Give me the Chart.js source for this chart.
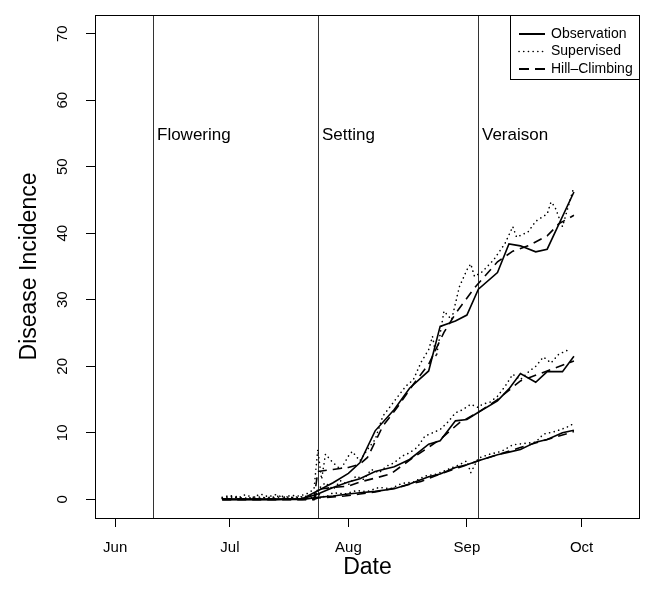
<!DOCTYPE html>
<html>
<head>
<meta charset="utf-8">
<script src="https://cdn.jsdelivr.net/npm/chart.js@4/dist/chart.umd.min.js"></script>
<style>
html,body{margin:0;padding:0;background:#fff;}
#wrap{width:652px;height:595px;}
</style>
</head>
<body>
<div id="wrap"><canvas id="c" width="652" height="595"></canvas></div>
<script>
// ---- data (x = days since 1 June) ----
const xTickDays = [0, 30, 61, 92, 122];
const xTickLabels = ["Jun", "Jul", "Aug", "Sep", "Oct"];
const yTicks = [0, 10, 20, 30, 40, 50, 60, 70];

const phaseDays = [10, 53, 95];
const phaseLabels = ["Flowering", "Setting", "Veraison"];

const obsDays = [28, 35, 42, 49, 53, 57, 61, 64, 68, 73, 77, 82, 85, 89, 92, 95, 100, 103, 106, 110, 113, 117, 120];
const obsHigh = [0, 0, 0, 0.1, 1.3, 2.5, 3.9, 5.5, 10.3, 13.5, 16.7, 19.3, 26.0, 26.8, 27.7, 31.6, 34.1, 38.4, 38.1, 37.2, 37.6, null, 46.2];
const obsMid  = [0, 0, 0, 0.1, 0.8, 1.8, 2.6, 3.1, 4.2, 4.9, 6.0, 8.3, 8.8, 11.8, 12.0, 13.1, 14.8, 16.6, 18.9, 17.6, 19.2, 19.2, 21.5];
const obsLow  = [0, 0, 0, 0, 0.3, 0.5, 0.8, 1.0, 1.2, 1.6, 2.3, 3.4, 3.8, 4.8, 5.2, 5.8, 6.7, 7.1, 7.5, 8.6, 9.0, 10.0, 10.4];

const hcHighDays = [28, 52, 53, 57, 61, 64, 66, 70, 74, 78, 82, 86, 89, 94, 100, 104, 108, 113, 116, 120];
const hcHigh     = [0, 0, 4.2, 4.5, 4.8, 5.3, 6.3, 11, 14, 17.3, 20.3, 25.1, 27.9, 31.8, 35.7, 37.3, 38.1, 39.6, 41.4, 42.7];
const hcMidDays  = [28, 52, 53, 57, 61, 64, 68, 72, 78, 85, 90, 95, 100, 106, 113, 120];
const hcMid      = [0, 0, 1.5, 1.8, 2.0, 2.6, 3.2, 3.8, 6.3, 9.0, 11.5, 13.1, 15.0, 17.8, 19.3, 20.8];
const hcLowDays  = [28, 52, 53, 60, 64, 68, 74, 80, 85, 90, 95, 100, 106, 113, 120];
const hcLow      = [0, 0, 0.2, 0.5, 0.8, 1.1, 1.8, 2.7, 3.8, 4.8, 5.8, 6.7, 7.8, 9.0, 10.2];

const supHighDays = [28,30,32,34,36,38,40,42,44,46,48,50,52,53,54,55,57,59,61,62,64,66,68,70,72,74,76,78,80,82,83,84,86,88,90,92,93,94,96,99,102,104,105,108,110,113,114,115,117,120];
const supHigh     = [0.3,0.6,0.2,0.7,0.3,0.8,0.4,0.7,0.3,0.6,0.5,0.8,1.5,7.5,3.0,6.8,5.5,4.5,6.5,7.2,5.8,7.5,9.0,12.5,14.0,15.5,17.0,18.0,20.6,22.5,24.5,21.4,28.3,27.0,31.9,34.5,35.4,33.5,34.2,36.0,38.5,41.0,39.4,40.2,41.8,42.9,44.7,44.0,41.0,47.0];
const supMidDays  = [28,31,34,37,40,43,46,49,52,53,55,57,59,61,63,65,67,69,71,73,75,77,79,81,83,85,87,89,91,93,95,96,98,100,102,104,106,108,110,112,114,116,119];
const supMid      = [0.2,0.5,0.1,0.4,0.2,0.5,0.3,0.4,0.6,1.5,2.5,1.5,2.8,2.2,3.5,3.0,4.5,4.0,5.0,5.5,6.5,7.0,7.8,9.5,10.0,10.5,11.6,13.0,13.5,14.3,13.8,14.3,14.6,15.5,17.0,18.8,18.0,19.1,20.0,21.4,20.5,21.8,22.6];
const supLowDays  = [28,32,36,40,44,48,52,53,55,57,60,63,66,69,72,75,78,81,84,87,90,92,93,95,98,101,104,107,110,112,115,118,120];
const supLow      = [0.1,0.3,0.1,0.3,0.2,0.3,0.3,0.8,0.3,1.0,0.8,1.3,1.2,1.8,1.6,2.4,2.6,3.5,3.8,4.5,5.2,5.8,4.0,6.2,6.8,7.2,8.2,8.4,8.6,9.8,10.2,10.8,11.4];

const legendLabels = ["Observation", "Supervised", "Hill\u2013Climbing"];

// ---- helpers ----
const FONT = '"Liberation Sans", Arial, Helvetica, sans-serif';
function pts(xs, ys){ return xs.map((x,i)=>({x:x, y:ys[i]})); }
const DOT = [0.1, 4.6];
const styleObs = {borderColor:'#000', borderWidth:1.6, borderDash:[]};
const styleSup = {borderColor:'#000', borderWidth:1.6, borderDash:DOT, borderCapStyle:'round'};
const styleHC  = {borderColor:'#000', borderWidth:1.6, borderDash:[9,6]};
function ds(label, data, st){
  return Object.assign({label:label, data:data, pointRadius:0, fill:false, tension:0, spanGaps:true}, st);
}

const datasets = [
  ds('Supervised high', pts(supHighDays, supHigh), styleSup),
  ds('Supervised mid', pts(supMidDays, supMid), styleSup),
  ds('Supervised low', pts(supLowDays, supLow), styleSup),
  ds('Hill-Climbing high', pts(hcHighDays, hcHigh), styleHC),
  ds('Hill-Climbing mid', pts(hcMidDays, hcMid), styleHC),
  ds('Hill-Climbing low', pts(hcLowDays, hcLow), styleHC),
  ds('Observation high', pts(obsDays, obsHigh), styleObs),
  ds('Observation mid', pts(obsDays, obsMid), styleObs),
  ds('Observation low', pts(obsDays, obsLow), styleObs)
];

const decor = {
  id:'decor',
  beforeDatasetsDraw(chart){
    const ctx = chart.ctx, a = chart.chartArea, xs = chart.scales.x;
    ctx.save();
    ctx.strokeStyle = '#333'; ctx.lineWidth = 1;
    ctx.fillStyle = '#000';
    ctx.font = '17px ' + FONT;
    ctx.textAlign = 'left'; ctx.textBaseline = 'alphabetic';
    phaseDays.forEach((d,i)=>{
      const px = Math.round(xs.getPixelForValue(d)) + 0.5;
      ctx.beginPath(); ctx.moveTo(px, a.top); ctx.lineTo(px, a.bottom); ctx.stroke();
      ctx.fillText(phaseLabels[i], px + 3.5, 140);
    });
    ctx.restore();
  },
  afterDraw(chart){
    const ctx = chart.ctx, a = chart.chartArea, xs = chart.scales.x, ys = chart.scales.y;
    ctx.save();
    // box
    ctx.strokeStyle = '#000'; ctx.lineWidth = 1;
    ctx.strokeRect(Math.round(a.left)+0.5, Math.round(a.top)+0.5, Math.round(a.right-a.left)-1, Math.round(a.bottom-a.top));
    ctx.fillStyle = '#000';
    // x tick labels
    ctx.font = '15px ' + FONT;
    ctx.textAlign = 'center'; ctx.textBaseline = 'middle';
    xTickDays.forEach((d,i)=>{ ctx.fillText(xTickLabels[i], xs.getPixelForValue(d), 548); });
    // y tick labels (rotated)
    yTicks.forEach(v=>{
      ctx.save();
      ctx.translate(63, ys.getPixelForValue(v));
      ctx.rotate(-Math.PI/2);
      ctx.fillText(String(v), 0, 0);
      ctx.restore();
    });
    // axis titles
    ctx.font = '23px ' + FONT;
    ctx.fillText('Date', (a.left + a.right)/2, 568);
    ctx.save();
    ctx.translate(30, (a.top + a.bottom)/2);
    ctx.rotate(-Math.PI/2);
    ctx.fillText('Disease Incidence', 0, 0);
    ctx.restore();
    // legend
    const lx = 510.5, ly = a.top + 0.5, lw = a.right - 510.5 - 0.5, lh = 64;
    ctx.fillStyle = '#fff';
    ctx.fillRect(lx, ly, lw, lh);
    ctx.strokeStyle = '#000';
    ctx.strokeRect(lx, ly, lw, lh);
    ctx.font = '14px ' + FONT;
    ctx.textAlign = 'left'; ctx.textBaseline = 'middle';
    legendLabels.forEach((t,i)=>{
      const yy = 34 + i*17.5;
      ctx.save();
      ctx.strokeStyle = '#000';
      ctx.lineWidth = i===1 ? 1.6 : 2;
      ctx.setLineDash(i===1 ? DOT : (i===2 ? [10,6] : []));
      ctx.lineCap = i===1 ? 'round' : 'butt';
      ctx.beginPath(); ctx.moveTo(519, yy); ctx.lineTo(545, yy); ctx.stroke();
      ctx.restore();
      ctx.fillStyle = '#000';
      ctx.fillText(t, 551, yy);
    });
    ctx.restore();
  }
};

new Chart(document.getElementById('c'), {
  type:'line',
  data:{datasets:datasets},
  options:{
    responsive:false,
    animation:false,
    events:[],
    layout:{padding:{left:0, right:12, top:15, bottom:0}},
    plugins:{legend:{display:false}, tooltip:{enabled:false}},
    scales:{
      x:{
        type:'linear', min:-5.28, max:137.28,
        afterBuildTicks:s=>{ s.ticks = xTickDays.map(v=>({value:v})); },
        afterFit:s=>{ s.height = 77; },
        ticks:{callback:()=> '', autoSkip:false},
        grid:{drawOnChartArea:false, drawTicks:true, tickLength:9, color:'#000', lineWidth:1},
        border:{display:false}
      },
      y:{
        type:'linear', min:-2.8, max:72.8,
        afterBuildTicks:s=>{ s.ticks = yTicks.map(v=>({value:v})); },
        afterFit:s=>{ s.width = 95; },
        ticks:{callback:()=> '', autoSkip:false},
        grid:{drawOnChartArea:false, drawTicks:true, tickLength:9, color:'#000', lineWidth:1},
        border:{display:false}
      }
    }
  },
  plugins:[decor]
});
</script>
</body>
</html>
